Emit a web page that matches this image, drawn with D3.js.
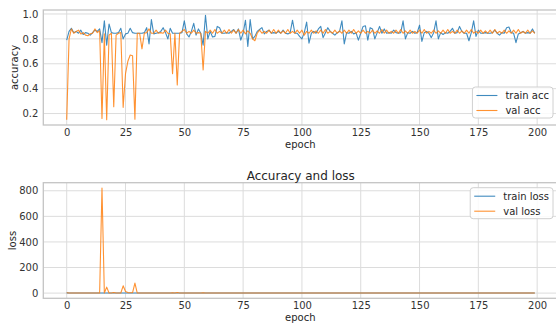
<!DOCTYPE html>
<html>
<head>
<meta charset="utf-8">
<script src="https://cdn.jsdelivr.net/npm/d3@7"></script>
<style>
  html, body { margin: 0; padding: 0; background: #fff; }
  svg { display: block; font-family: "DejaVu Sans", sans-serif; }
</style>
</head>
<body>
<svg id="chart" width="556" height="326"></svg>
<script>
// ---- training history, one value per epoch ----
const trainAcc = [
  0.790, 0.860, 0.885, 0.850, 0.860, 0.845, 0.870, 0.835, 0.850, 0.845,
  0.830, 0.850, 0.870, 0.860, 0.880, 0.770, 0.945, 0.750, 0.920, 0.850,
  0.845, 0.845, 0.850, 0.885, 0.800, 0.840, 0.845, 0.885, 0.850, 0.845,
  0.845, 0.845, 0.845, 0.850, 0.890, 0.760, 0.955, 0.840, 0.845, 0.850,
  0.860, 0.890, 0.850, 0.800, 0.885, 0.845, 0.845, 0.845, 0.845, 0.850,
  0.945, 0.840, 0.815, 0.860, 0.925, 0.830, 0.880, 0.845, 0.750, 0.990,
  0.800, 0.860, 0.815, 0.820, 0.900, 0.890, 0.845, 0.845, 0.850, 0.845,
  0.860, 0.875, 0.845, 0.880, 0.790, 0.845, 0.950, 0.740, 0.955, 0.800,
  0.820, 0.860, 0.875, 0.890, 0.840, 0.860, 0.870, 0.845, 0.850, 0.845,
  0.860, 0.845, 0.870, 0.845, 0.840, 0.850, 0.950, 0.845, 0.845, 0.820,
  0.800, 0.850, 0.935, 0.765, 0.845, 0.860, 0.845, 0.880, 0.900, 0.810,
  0.850, 0.890, 0.860, 0.845, 0.830, 0.850, 0.860, 0.945, 0.760, 0.850,
  0.845, 0.860, 0.840, 0.850, 0.790, 0.845, 0.900, 0.905, 0.790, 0.890,
  0.880, 0.800, 0.850, 0.900, 0.845, 0.880, 0.845, 0.850, 0.845, 0.870,
  0.850, 0.845, 0.850, 0.945, 0.800, 0.850, 0.845, 0.860, 0.845, 0.850,
  0.910, 0.780, 0.850, 0.860, 0.845, 0.810, 0.850, 0.945, 0.800, 0.850,
  0.835, 0.850, 0.845, 0.860, 0.885, 0.845, 0.850, 0.900, 0.860, 0.845,
  0.845, 0.785, 0.850, 0.945, 0.820, 0.870, 0.845, 0.845, 0.850, 0.845,
  0.845, 0.850, 0.870, 0.845, 0.830, 0.850, 0.845, 0.890, 0.895, 0.850,
  0.845, 0.770, 0.840, 0.850, 0.860, 0.845, 0.850, 0.845, 0.880, 0.845
];
const valAcc = [
  0.150, 0.800, 0.880, 0.845, 0.860, 0.870, 0.840, 0.850, 0.830, 0.825,
  0.840, 0.845, 0.880, 0.850, 0.865, 0.160, 0.840, 0.150, 0.830, 0.845,
  0.255, 0.830, 0.845, 0.850, 0.250, 0.520, 0.620, 0.670, 0.665, 0.155,
  0.845, 0.845, 0.720, 0.845, 0.850, 0.880, 0.845, 0.845, 0.870, 0.845,
  0.850, 0.845, 0.870, 0.845, 0.840, 0.520, 0.845, 0.430, 0.845, 0.860,
  0.875, 0.845, 0.860, 0.845, 0.870, 0.845, 0.850, 0.845, 0.550, 0.860,
  0.845, 0.870, 0.845, 0.875, 0.845, 0.860, 0.845, 0.870, 0.845, 0.875,
  0.845, 0.870, 0.845, 0.875, 0.845, 0.870, 0.840, 0.865, 0.845, 0.800,
  0.785, 0.845, 0.870, 0.845, 0.860, 0.845, 0.870, 0.845, 0.875, 0.845,
  0.870, 0.845, 0.865, 0.845, 0.875, 0.845, 0.860, 0.845, 0.870, 0.845,
  0.870, 0.830, 0.860, 0.845, 0.870, 0.845, 0.865, 0.845, 0.870, 0.845,
  0.875, 0.845, 0.860, 0.845, 0.870, 0.845, 0.865, 0.845, 0.870, 0.845,
  0.870, 0.845, 0.875, 0.845, 0.865, 0.845, 0.870, 0.845, 0.860, 0.845,
  0.870, 0.845, 0.865, 0.845, 0.875, 0.845, 0.870, 0.845, 0.860, 0.845,
  0.870, 0.845, 0.875, 0.845, 0.865, 0.845, 0.870, 0.845, 0.860, 0.845,
  0.870, 0.845, 0.875, 0.845, 0.860, 0.845, 0.870, 0.845, 0.865, 0.845,
  0.870, 0.845, 0.875, 0.845, 0.860, 0.845, 0.870, 0.845, 0.865, 0.845,
  0.870, 0.845, 0.875, 0.845, 0.860, 0.845, 0.870, 0.845, 0.865, 0.845,
  0.870, 0.845, 0.875, 0.845, 0.860, 0.845, 0.870, 0.845, 0.865, 0.845,
  0.870, 0.845, 0.875, 0.845, 0.860, 0.845, 0.870, 0.845, 0.865, 0.845
];
const trainLoss = [
  2.0, 0.5, 0.4, 0.4, 0.4, 0.4, 0.4, 0.4, 0.4, 0.4,
  0.4, 0.4, 0.4, 0.4, 0.4, 0.5, 0.4, 0.5, 0.4, 0.4,
  0.4, 0.4, 0.4, 0.4, 0.4, 0.4, 0.4, 0.4, 0.4, 0.4,
  0.4, 0.4, 0.4, 0.4, 0.4, 0.5, 0.4, 0.4, 0.4, 0.4,
  0.4, 0.4, 0.4, 0.4, 0.4, 0.4, 0.4, 0.4, 0.4, 0.4,
  0.4, 0.4, 0.4, 0.4, 0.4, 0.4, 0.4, 0.4, 0.5, 0.4,
  0.4, 0.4, 0.4, 0.4, 0.4, 0.4, 0.4, 0.4, 0.4, 0.4,
  0.4, 0.4, 0.4, 0.4, 0.4, 0.4, 0.4, 0.5, 0.4, 0.4,
  0.4, 0.4, 0.4, 0.4, 0.4, 0.4, 0.4, 0.4, 0.4, 0.4,
  0.4, 0.4, 0.4, 0.4, 0.4, 0.4, 0.4, 0.4, 0.4, 0.4,
  0.4, 0.4, 0.4, 0.5, 0.4, 0.4, 0.4, 0.4, 0.4, 0.4,
  0.4, 0.4, 0.4, 0.4, 0.4, 0.4, 0.4, 0.4, 0.5, 0.4,
  0.4, 0.4, 0.4, 0.4, 0.4, 0.4, 0.4, 0.4, 0.4, 0.4,
  0.4, 0.4, 0.4, 0.4, 0.4, 0.4, 0.4, 0.4, 0.4, 0.4,
  0.4, 0.4, 0.4, 0.4, 0.4, 0.4, 0.4, 0.4, 0.4, 0.4,
  0.4, 0.4, 0.4, 0.4, 0.4, 0.4, 0.4, 0.4, 0.4, 0.4,
  0.4, 0.4, 0.4, 0.4, 0.4, 0.4, 0.4, 0.4, 0.4, 0.4,
  0.4, 0.4, 0.4, 0.4, 0.4, 0.4, 0.4, 0.4, 0.4, 0.4,
  0.4, 0.4, 0.4, 0.4, 0.4, 0.4, 0.4, 0.4, 0.4, 0.4,
  0.4, 0.5, 0.4, 0.4, 0.4, 0.4, 0.4, 0.4, 0.4, 0.4
];
const valLoss = [
  2.4, 0.9, 0.5, 0.6, 0.5, 0.6, 0.5, 0.6, 0.7, 0.6,
  0.6, 0.5, 0.5, 0.6, 0.5, 822, 0.8, 47, 0.9, 0.6,
  5.0, 0.8, 0.6, 0.6, 57, 12, 4.0, 2.5, 2.8, 78,
  0.6, 0.5, 0.9, 0.5, 0.5, 0.5, 0.5, 0.5, 0.5, 0.5,
  0.5, 0.5, 0.5, 0.5, 0.5, 3.0, 0.5, 4.5, 0.5, 0.5,
  0.5, 0.5, 0.5, 0.5, 0.5, 0.5, 0.5, 0.5, 2.0, 0.5,
  0.5, 0.5, 0.5, 0.5, 0.5, 0.5, 0.5, 0.5, 0.5, 0.5,
  0.5, 0.5, 0.5, 0.5, 0.5, 0.5, 0.5, 0.5, 0.5, 0.6,
  0.6, 0.5, 0.5, 0.5, 0.5, 0.5, 0.5, 0.5, 0.5, 0.5,
  0.5, 0.5, 0.5, 0.5, 0.5, 0.5, 0.5, 0.5, 0.5, 0.5,
  0.5, 0.5, 0.5, 0.5, 0.5, 0.5, 0.5, 0.5, 0.5, 0.5,
  0.5, 0.5, 0.5, 0.5, 0.5, 0.5, 0.5, 0.5, 0.5, 0.5,
  0.5, 0.5, 0.5, 0.5, 0.5, 0.5, 0.5, 0.5, 0.5, 0.5,
  0.5, 0.5, 0.5, 0.5, 0.5, 0.5, 0.5, 0.5, 0.5, 0.5,
  0.5, 0.5, 0.5, 0.5, 0.5, 0.5, 0.5, 0.5, 0.5, 0.5,
  0.5, 0.5, 0.5, 0.5, 0.5, 0.5, 0.5, 0.5, 0.5, 0.5,
  0.5, 0.5, 0.5, 0.5, 0.5, 0.5, 0.5, 0.5, 0.5, 0.5,
  0.5, 0.5, 0.5, 0.5, 0.5, 0.5, 0.5, 0.5, 0.5, 0.5,
  0.5, 0.5, 0.5, 0.5, 0.5, 0.5, 0.5, 0.5, 0.5, 0.5,
  0.5, 0.5, 0.5, 0.5, 0.5, 0.5, 0.5, 0.5, 0.5, 0.5
];

const epochTicks = [0, 25, 50, 75, 100, 125, 150, 175, 200];
const accTicks = [0.2, 0.4, 0.6, 0.8, 1.0];
const lossTicks = [0, 200, 400, 600, 800];

const BLUE = "#1f77b4", ORANGE = "#ff7f0e";
const svg = d3.select("#chart");

// matplotlib-style auto limits: 5% padding around the data range
function padded(lo, hi) { const r = hi - lo; return [lo - 0.05 * r, hi + 0.05 * r]; }

const left = 43.3, right = 558.2;
const epochs = d3.range(trainAcc.length);
const xDomain = padded(0, epochs.length - 1);

function panel(opts) {
  const { top, bottom, series, yTicks, yFmt, yLabel, yLabelX, legendPos, title, clipId } = opts;
  const all = series.flatMap(s => s.values);
  const x = d3.scaleLinear().domain(xDomain).range([left, right]);
  const y = d3.scaleLinear().domain(padded(d3.min(all), d3.max(all))).range([bottom, top]);
  const g = svg.append("g");

  // grid
  g.append("g").selectAll("line").data(epochTicks).join("line")
    .attr("x1", d => x(d)).attr("x2", d => x(d)).attr("y1", top).attr("y2", bottom)
    .attr("stroke", "#dcdcdc").attr("stroke-width", 1);
  g.append("g").selectAll("line").data(yTicks).join("line")
    .attr("x1", left).attr("x2", right).attr("y1", d => y(d)).attr("y2", d => y(d))
    .attr("stroke", "#dcdcdc").attr("stroke-width", 1);

  // axes (labels only, no tick marks)
  const xAxis = g.append("g").attr("transform", `translate(0,${bottom})`)
    .call(d3.axisBottom(x).tickValues(epochTicks).tickSize(0).tickPadding(3.5));
  const yAxis = g.append("g").attr("transform", `translate(${left},0)`)
    .call(d3.axisLeft(y).tickValues(yTicks).tickFormat(yFmt).tickSize(0).tickPadding(5));
  [xAxis, yAxis].forEach(a => {
    a.select(".domain").remove();
    a.selectAll("text").attr("font-family", "DejaVu Sans").attr("font-size", 10).attr("fill", "#333");
  });

  // data lines
  svg.append("clipPath").attr("id", clipId).append("rect")
    .attr("x", left).attr("y", top).attr("width", right - left).attr("height", bottom - top);
  const line = d3.line().x((d, i) => x(i)).y(d => y(d));
  series.forEach(s => {
    g.append("path").datum(s.values).attr("d", line)
      .attr("clip-path", `url(#${clipId})`)
      .attr("fill", "none").attr("stroke", s.color).attr("stroke-width", 1.1)
      .attr("stroke-opacity", 0.85).attr("stroke-linejoin", "round");
  });

  // frame
  g.append("rect").attr("x", left).attr("y", top).attr("width", right - left).attr("height", bottom - top)
    .attr("fill", "none").attr("stroke", "#c4c4c4").attr("stroke-width", 1.3);

  // axis titles
  g.append("text").attr("x", (left + right) / 2 - 0.5).attr("y", bottom + 22.5)
    .attr("text-anchor", "middle").attr("font-size", 10).attr("fill", "#262626").text("epoch");
  g.append("text").attr("transform", `translate(${yLabelX},${(top + bottom) / 2}) rotate(-90)`)
    .attr("text-anchor", "middle").attr("font-size", 10).attr("fill", "#262626").text(yLabel);

  if (title) {
    g.append("text").attr("x", (left + right) / 2).attr("y", top - 3)
      .attr("text-anchor", "middle").attr("font-size", 12).attr("fill", "#262626").text(title);
  }

  // legend
  const lg = g.append("g");
  const box = lg.append("rect").attr("rx", 3).attr("ry", 3)
    .attr("fill", "#fff").attr("fill-opacity", 0.85).attr("stroke", "#d0d0d0").attr("stroke-width", 1);
  const texts = series.map((s, i) => lg.append("text").attr("font-size", 10).attr("fill", "#262626")
    .attr("dy", "0.35em").text(s.name));
  const tw = d3.max(texts, t => t.node().getComputedTextLength());
  const w = 4 + 21 + 8 + tw + 4, h = 31;
  const bx = 553 - w;
  const by = legendPos === "lower" ? bottom - 7 - h : top + 5;
  box.attr("x", bx).attr("y", by).attr("width", w).attr("height", h);
  series.forEach((s, i) => {
    const cy = by + 8.5 + i * 15;
    lg.append("line").attr("x1", bx + 4).attr("x2", bx + 25).attr("y1", cy).attr("y2", cy)
      .attr("stroke", s.color).attr("stroke-width", 1.1).attr("stroke-opacity", 0.85);
    texts[i].attr("x", bx + 33).attr("y", cy);
  });
}

panel({
  top: 10, bottom: 125,
  series: [{ name: "train acc", values: trainAcc, color: BLUE },
           { name: "val acc", values: valAcc, color: ORANGE }],
  yTicks: accTicks, yFmt: d3.format(".1f"), yLabel: "accuracy", yLabelX: 18.3,
  legendPos: "lower", clipId: "clipAcc"
});

panel({
  top: 182.7, bottom: 298.3,
  series: [{ name: "train loss", values: trainLoss, color: BLUE },
           { name: "val loss", values: valLoss, color: ORANGE }],
  yTicks: lossTicks, yFmt: d3.format("d"), yLabel: "loss", yLabelX: 16,
  legendPos: "upper", title: "Accuracy and loss", clipId: "clipLoss"
});
</script>
</body>
</html>
